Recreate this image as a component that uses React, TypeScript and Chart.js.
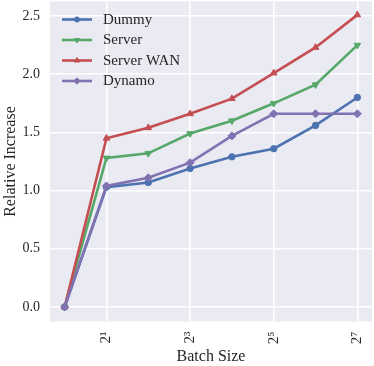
import React, { useEffect, useRef } from "react";
import { Chart, registerables } from "chart.js";
import { drawPoint } from "chart.js/helpers";

Chart.register(...registerables);

const batchSizes = [1, 2, 4, 8, 16, 32, 64, 128];
const dummy = [0, 1.03, 1.07, 1.19, 1.29, 1.36, 1.56, 1.8];
const server = [0, 1.28, 1.32, 1.49, 1.6, 1.75, 1.91, 2.25];
const serverWan = [0, 1.45, 1.54, 1.66, 1.79, 2.01, 2.23, 2.51];
const dynamo = [0, 1.04, 1.11, 1.24, 1.47, 1.66, 1.66, 1.66];
const xTicks = [2, 8, 32, 128];
const yTicks = [0, 0.5, 1.0, 1.5, 2.0, 2.5];

const seriesNames = ["Dummy", "Server", "Server WAN", "Dynamo"];
const seriesColors = ["#4C72B0", "#55A868", "#C44E52", "#8172B2"];
const seriesStyles = ["circle", "triangle", "triangle", "rectRot"];
const seriesRot = [0, 180, 0, 0];
const seriesRadius = [3.2, 3.8, 3.8, 4];

const FONT = "'Liberation Serif', 'Times New Roman', serif";
const SUP: Record<string, string> = { "0": "⁰", "1": "¹", "2": "²", "3": "³", "4": "⁴", "5": "⁵", "6": "⁶", "7": "⁷", "8": "⁸", "9": "⁹" };

const bgPlugin = {
  id: "bgPlugin",
  beforeDraw(chart: any) {
    const { ctx, chartArea } = chart;
    ctx.save();
    ctx.fillStyle = "#EAEAF2";
    ctx.fillRect(chartArea.left, chartArea.top, chartArea.right - chartArea.left, chartArea.bottom - chartArea.top);
    ctx.restore();
  },
};

const legendPlugin = {
  id: "insideLegend",
  afterDatasetsDraw(chart: any) {
    const ctx = chart.ctx;
    ctx.save();
    const x0 = 62, x1 = 92, tx = 103;
    const rows = [19.5, 40, 60.5, 81];
    seriesNames.forEach((name, i) => {
      const y = rows[i];
      ctx.strokeStyle = seriesColors[i];
      ctx.lineWidth = 2.6;
      ctx.lineCap = "butt";
      ctx.beginPath();
      ctx.moveTo(x0, y);
      ctx.lineTo(x1, y);
      ctx.stroke();
      ctx.fillStyle = seriesColors[i];
      ctx.strokeStyle = seriesColors[i];
      ctx.lineWidth = 1;
      drawPoint(ctx, { pointStyle: seriesStyles[i], rotation: seriesRot[i], radius: seriesRadius[i] * 0.8, borderWidth: 1 } as any, (x0 + x1) / 2, y);
      ctx.fillStyle = "#262626";
      ctx.font = `15px ${FONT}`;
      ctx.textBaseline = "middle";
      ctx.textAlign = "left";
      ctx.fillText(name, tx, y + 0.5);
    });
    ctx.restore();
  },
};

const zeroPad = (scale: any) => {
  scale.paddingTop = 0;
  scale.paddingBottom = 0;
  scale.paddingLeft = 0;
  scale.paddingRight = 0;
};

export default function App() {
  const ref = useRef<HTMLCanvasElement | null>(null);
  useEffect(() => {
    document.body.style.margin = "0";
    const canvas = ref.current!;
    const datasets = [dummy, server, serverWan, dynamo].map((vals, i) => ({
      label: seriesNames[i],
      data: vals.map((v, j) => ({ x: batchSizes[j], y: v })),
      borderColor: seriesColors[i],
      backgroundColor: seriesColors[i],
      borderWidth: 2.6,
      pointStyle: seriesStyles[i],
      pointRotation: seriesRot[i],
      pointRadius: seriesRadius[i],
      pointBorderWidth: 1,
      pointBackgroundColor: seriesColors[i],
      pointBorderColor: seriesColors[i],
      tension: 0,
      clip: false,
      order: 3 - i,
    }));
    const chart = new Chart(canvas, {
      type: "line",
      data: { datasets },
      plugins: [bgPlugin, legendPlugin],
      options: {
        animation: false,
        responsive: false,
        maintainAspectRatio: false,
        devicePixelRatio: 1,
        layout: { autoPadding: false, padding: { top: 1.5, right: 2, left: 0, bottom: 0 } },
        plugins: { legend: { display: false }, tooltip: { enabled: false } },
        scales: {
          x: {
            type: "logarithmic",
            min: Math.pow(2, -0.35),
            max: Math.pow(2, 7.35),
            afterBuildTicks: (scale: any) => {
              scale.ticks = xTicks.map((v) => ({ value: v }));
            },
            afterFit: (scale: any) => {
              scale.height = 44.5;
              zeroPad(scale);
            },
            ticks: {
              autoSkip: false,
              minRotation: 90,
              maxRotation: 90,
              padding: 10,
              color: "#262626",
              font: { family: FONT, size: 15 },
              callback: (v: any) => {
                const e = Math.round(Math.log2(Number(v)));
                return "2" + String(e).split("").map((c) => SUP[c]).join("");
              },
            },
            grid: { color: "#FFFFFF", lineWidth: 1.6, drawTicks: false },
            border: { display: false },
            title: {
              display: true,
              text: "Batch Size",
              color: "#262626",
              font: { family: FONT, size: 16 },
              padding: { top: 0, bottom: 0 },
            },
          },
          y: {
            type: "linear",
            min: -0.125,
            max: 2.625,
            afterBuildTicks: (scale: any) => {
              scale.ticks = yTicks.map((v) => ({ value: v }));
            },
            afterFit: (scale: any) => {
              scale.width = 50;
              zeroPad(scale);
            },
            ticks: {
              padding: 10,
              color: "#262626",
              font: { family: FONT, size: 14 },
              callback: (v: any) => Number(v).toFixed(1),
            },
            grid: { color: "#FFFFFF", lineWidth: 1.6, drawTicks: false },
            border: { display: false },
            title: {
              display: true,
              text: "Relative Increase",
              color: "#262626",
              font: { family: FONT, size: 16 },
              padding: { top: 1, bottom: 0 },
            },
          },
        },
      },
    } as any);
    return () => chart.destroy();
  }, []);
  return <canvas ref={ref} width={374} height={366} style={{ display: "block", width: 374, height: 366 }} />;
}
